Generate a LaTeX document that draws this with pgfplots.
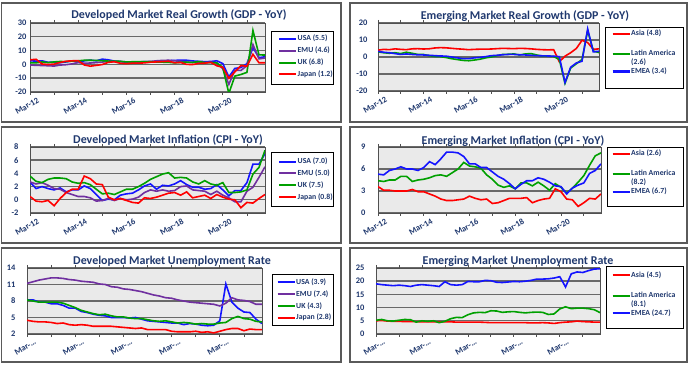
\documentclass[border=0pt]{standalone}
\usepackage{fontspec}
\setmainfont{Carlito}
\usepackage{pgfplots}
\pgfplotsset{compat=1.18}
\usepackage{pgfplotstable}

\definecolor{navy}{RGB}{31,56,110}
\definecolor{bggray}{RGB}{234,234,234}
\definecolor{gridgray}{RGB}{105,105,105}
\definecolor{axisgray}{RGB}{80,80,80}
\definecolor{panelgray}{RGB}{90,90,90}
\definecolor{cblue}{RGB}{20,20,255}
\definecolor{cpurple}{RGB}{112,48,160}
\definecolor{cgreen}{RGB}{0,160,0}
\definecolor{cred}{RGB}{255,0,0}

\pgfplotstableread{
i USA EMU UK JPN
0 2.6 -0.4 1.2 3.3
1 2.4 -0.7 1.1 3.7
2 2.6 -0.8 1.8 0.3
3 1.5 -1.0 1.3 -0.1
4 1.6 -1.2 1.8 0.2
5 1.2 -0.5 2.1 1.4
6 1.8 -0.2 2.0 2.3
7 2.6 0.4 2.4 2.6
8 1.5 1.3 2.6 2.7
9 2.6 0.9 3.0 -0.4
10 3.1 1.0 3.0 -1.3
11 2.6 1.3 2.9 -0.7
12 3.8 1.7 2.7 -0.1
13 3.3 2.1 2.4 1.5
14 2.4 2.0 2.4 1.9
15 2.1 2.1 2.2 0.8
16 1.5 1.8 1.8 0.5
17 1.3 1.7 1.9 0.9
18 1.6 1.8 2.0 0.9
19 2.0 2.0 2.0 1.1
20 2.0 2.1 2.0 1.6
21 2.1 2.6 1.6 1.8
22 2.3 2.9 1.6 2.0
23 2.7 3.0 1.5 2.3
24 2.9 2.6 1.1 1.2
25 3.1 2.2 1.5 1.4
26 3.0 1.7 1.6 0.0
27 2.5 1.4 1.4 -0.1
28 2.2 1.6 2.1 0.7
29 2.0 1.3 1.3 0.9
30 2.1 1.5 1.3 1.5
31 2.6 1.0 1.1 -1.0
32 0.6 -3.2 -2.2 -2.1
33 -9.1 -14.5 -21.0 -10.1
34 -2.9 -4.1 -8.5 -5.4
35 -2.3 -4.4 -7.3 -0.9
36 0.5 -1.0 -5.8 -1.3
37 12.2 14.4 24.6 7.3
38 4.9 4.0 6.9 1.2
39 5.5 4.6 6.8 1.2
}\tgdpdev

\pgfplotstableread{
i Asia LatAm EMEA
0 4.0 3.0 3.3
1 4.5 2.5 2.8
2 4.3 2.2 2.5
3 4.8 2.5 2.0
4 4.5 2.0 1.5
5 4.3 2.8 1.8
6 4.8 2.2 1.5
7 4.9 1.5 1.3
8 4.7 1.5 1.2
9 4.8 0.8 1.0
10 5.3 0.3 0.8
11 5.5 0.2 0.6
12 5.4 -0.3 0.5
13 5.1 -1.0 0.0
14 4.8 -1.5 -0.5
15 4.6 -2.0 -1.0
16 4.3 -2.2 -1.0
17 4.5 -1.8 -0.5
18 4.6 -1.3 -0.2
19 4.6 -0.5 0.2
20 4.7 0.0 0.8
21 4.9 0.8 1.0
22 5.1 1.5 1.3
23 5.0 1.6 1.5
24 4.9 1.8 1.5
25 5.1 1.2 1.3
26 5.0 1.8 1.2
27 4.8 2.0 1.0
28 4.5 1.2 0.8
29 4.3 0.5 0.7
30 4.2 0.5 0.6
31 4.3 0.3 0.5
32 -2.8 -1.5 0.2
33 0.5 -15.5 -15.0
34 2.5 -6.5 -6.0
35 5.0 -4.0 -3.5
36 9.8 -1.5 -2.5
37 8.5 15.5 16.5
38 4.5 3.5 3.0
39 4.8 2.6 3.4
}\tgdpem

\pgfplotstableread{
i USA EMU UK JPN
0 2.7 2.7 3.6 0.5
1 1.7 2.4 2.8 -0.2
2 2.0 2.6 2.6 -0.3
3 1.7 2.2 3.1 -0.1
4 1.5 1.7 3.3 -0.9
5 1.8 1.6 3.3 0.2
6 1.2 1.1 3.2 1.1
7 1.5 0.8 2.7 1.6
8 1.5 0.5 2.5 1.6
9 2.1 0.5 2.6 3.6
10 1.7 0.3 2.3 3.2
11 0.8 -0.2 1.6 2.4
12 -0.1 -0.1 0.9 2.3
13 0.1 0.2 1.0 0.4
14 0.0 -0.1 0.8 0.0
15 0.7 0.2 1.2 0.2
16 0.9 0.0 1.6 -0.1
17 1.0 0.1 1.6 -0.4
18 1.5 0.4 2.0 -0.5
19 2.1 1.1 2.5 0.3
20 2.4 1.5 3.1 0.2
21 1.6 1.3 3.5 0.4
22 2.2 1.5 3.9 0.7
23 2.1 1.3 4.1 1.0
24 2.4 1.4 3.3 1.1
25 2.9 2.0 3.4 0.7
26 2.3 2.1 3.3 1.2
27 1.9 1.5 2.7 0.3
28 1.9 1.4 2.4 0.5
29 1.6 1.3 2.9 0.7
30 1.7 0.8 2.4 0.2
31 2.3 1.3 2.2 0.8
32 1.5 0.7 2.6 0.4
33 0.6 0.3 1.1 0.1
34 1.4 -0.3 1.1 0.0
35 1.4 -0.3 1.2 -1.2
36 2.6 1.3 1.5 -0.4
37 5.4 1.9 3.9 -0.5
38 5.4 3.4 4.9 0.2
39 7.0 5.0 7.5 0.8
}\tcpidev

\pgfplotstableread{
i Asia LatAm EMEA
0 3.6 4.4 5.3
1 3.1 4.3 5.2
2 3.1 4.5 5.8
3 3.0 4.5 6.0
4 3.0 5.0 6.3
5 3.0 5.0 6.0
6 3.2 4.3 6.0
7 2.9 4.5 5.8
8 2.9 4.6 6.2
9 2.6 4.8 7.0
10 2.3 5.1 6.6
11 1.9 5.2 7.4
12 1.7 5.0 8.3
13 1.7 5.5 8.3
14 1.8 6.0 8.2
15 1.9 6.9 7.7
16 2.3 6.4 6.7
17 2.0 6.3 6.7
18 1.8 6.1 6.2
19 1.9 5.2 6.2
20 1.3 4.6 5.6
21 1.4 3.8 5.0
22 1.7 3.5 4.6
23 2.0 3.7 4.0
24 2.0 3.3 3.3
25 2.0 4.1 3.9
26 2.1 4.1 4.4
27 1.4 3.7 4.4
28 1.7 4.2 4.8
29 1.9 3.7 4.6
30 2.0 3.1 4.2
31 3.3 4.0 3.7
32 2.9 3.5 3.6
33 1.9 2.7 2.6
34 1.8 3.4 3.4
35 0.9 4.2 3.8
36 1.4 5.1 4.1
37 2.0 6.5 5.4
38 1.9 7.8 5.8
39 2.6 8.2 6.7
}\tcpiem

\pgfplotstableread{
i USA EMU UK JPN
0 8.2 11.2 8.2 4.5
1 8.2 11.5 8.0 4.3
2 7.8 11.8 7.8 4.2
3 7.8 12.0 7.8 4.2
4 7.5 12.2 7.8 4.1
5 7.5 12.2 7.8 3.9
6 7.2 12.1 7.6 4.0
7 6.7 11.9 7.2 3.7
8 6.7 11.8 6.8 3.6
9 6.1 11.6 6.3 3.7
10 5.9 11.5 6.0 3.6
11 5.6 11.4 5.7 3.4
12 5.4 11.1 5.5 3.4
13 5.3 11.0 5.6 3.4
14 5.0 10.6 5.3 3.4
15 5.0 10.5 5.1 3.3
16 5.0 10.2 5.1 3.2
17 4.9 10.1 4.9 3.1
18 5.0 9.9 4.8 3.0
19 4.7 9.7 4.8 3.1
20 4.4 9.4 4.6 2.8
21 4.3 9.1 4.4 2.8
22 4.2 8.9 4.3 2.8
23 4.1 8.6 4.4 2.8
24 4.0 8.5 4.2 2.5
25 4.0 8.2 4.0 2.4
26 3.7 8.0 4.1 2.4
27 3.9 7.8 4.0 2.4
28 3.8 7.7 3.8 2.5
29 3.6 7.6 3.9 2.3
30 3.5 7.5 3.8 2.4
31 3.6 7.4 3.8 2.2
32 4.4 7.1 4.0 2.5
33 11.1 7.6 4.1 2.8
34 7.8 8.6 4.8 3.0
35 6.7 8.2 5.2 3.0
36 6.0 8.1 4.8 2.6
37 5.9 7.9 4.7 2.9
38 4.7 7.4 4.3 2.8
39 3.9 7.4 4.2 2.8
}\tundev

\pgfplotstableread{
i Asia LatAm EMEA
0 5.0 5.2 19.0
1 5.1 5.5 18.7
2 4.9 5.0 18.5
3 4.8 4.9 18.3
4 4.8 5.2 18.5
5 4.7 5.5 18.3
6 4.7 5.4 18.0
7 4.7 4.5 18.5
8 4.6 5.0 18.7
9 4.6 4.8 18.5
10 4.6 5.0 18.3
11 4.6 4.3 18.0
12 4.6 4.8 19.8
13 4.6 5.8 18.7
14 4.5 6.3 18.5
15 4.5 6.2 18.7
16 4.5 7.3 19.9
17 4.5 8.0 19.8
18 4.5 8.2 19.8
19 4.4 8.1 20.3
20 4.3 8.8 20.2
21 4.3 8.7 19.6
22 4.3 8.2 19.5
23 4.3 8.4 19.7
24 4.3 8.5 19.9
25 4.3 8.2 19.8
26 4.3 8.0 20.0
27 4.2 8.2 20.3
28 4.2 8.3 20.8
29 4.3 8.2 20.8
30 4.2 7.4 20.9
31 4.0 7.6 21.2
32 4.3 9.5 21.7
33 4.5 10.3 17.8
34 4.6 9.6 22.8
35 4.9 9.8 23.5
36 4.7 9.8 23.3
37 4.6 9.6 24.0
38 4.5 9.2 24.6
39 4.5 8.1 24.7
}\tunem

\pgfplotsset{
  panel/.style={
    scale only axis, anchor=north west,
    xmin=0, xmax=39,
    xtick={0,8,16,24,32},
    minor xtick={4,12,20,28,36},
    axis background/.style={fill=bggray},
    axis line style={draw=axisgray, line width=0.8bp},
    ymajorgrids, major grid style={draw=gridgray, line width=1.4bp},
    tick align=outside, major tick length=3bp, minor tick length=3bp,
    xtick style={draw=axisgray, line width=0.8bp},
    minor x tick style={draw=axisgray, line width=0.8bp},
    ytick style={draw=none},
    tick label style={font=\fontsize{8.5}{10}\selectfont\bfseries, text=navy},
    xticklabel style={rotate=30, anchor=north east, inner sep=1pt, xshift=6bp, yshift=-4bp},
    legend cell align=left,
    every axis plot/.append style={line width=1.6bp, mark=none},
    legend image code/.code={\draw[#1, line width=2bp] (0bp,0bp) -- (17bp,0bp);},
  },
  devleg/.style={legend style={draw=none, fill=none, anchor=north west, inner sep=0pt,
    row sep=0.6bp, column sep=0pt, font=\fontsize{7.8}{9}\selectfont\bfseries,
    nodes={inner ysep=2bp, inner xsep=0.5bp, text depth=0.15em, text=navy}}},
  emleg/.style={legend style={draw=none, fill=none, anchor=north west, inner sep=0pt,
    row sep=0bp, column sep=0pt, font=\fontsize{7.8}{9}\selectfont\bfseries,
    nodes={inner ysep=0.8bp, inner xsep=0.5bp, text depth=0.15em, text=navy}}},
  datelabels/.style={xticklabels={Mar-12,Mar-14,Mar-16,Mar-18,Mar-20}},
  shortlabels/.style={xticklabels={{Mar-\ldots},{Mar-\ldots},{Mar-\ldots},{Mar-\ldots},{Mar-\ldots}}},
}

\begin{document}
\begin{tikzpicture}
\useasboundingbox (0,0) rectangle (689bp,365bp);
\fill[white] (0,0) rectangle (689bp,365bp);

% panel frames
\begin{scope}[draw=panelgray, line width=1.3bp]
\draw (1.5bp,243bp) rectangle (341bp,362bp);
\draw (350bp,243bp) rectangle (687bp,362bp);
\draw (1.5bp,122bp) rectangle (341bp,238bp);
\draw (350bp,122bp) rectangle (687bp,238bp);
\draw (1.5bp,3bp) rectangle (341bp,117bp);
\draw (350bp,3bp) rectangle (687bp,117bp);
\end{scope}

% titles
\begin{scope}[every node/.style={font=\fontsize{12}{14}\selectfont\bfseries, text=navy, inner sep=0pt}]
\node at (179bp,349.5bp) {Developed Market Real Growth (GDP - YoY)};
\node at (525bp,348.5bp) {Emerging Market Real Growth (GDP - YoY)};
\node at (168bp,224.5bp) {Developed Market Inflation (CPI - YoY)};
\node at (513bp,224bp) {Emerging Market Inflation (CPI - YoY)};
\node at (172bp,103.5bp) {Developed Market Unemployment Rate};
\node at (518bp,103.5bp) {Emerging Market Unemployment Rate};
\end{scope}

% ---------- Developed GDP
\begin{axis}[panel, datelabels, devleg, at={(30bp,342bp)}, width=235bp, height=69bp,
  ymin=-20, ymax=30, ytick={-20,-10,0,10,20,30}, yticklabels={-20,-10,0,10,20,30},
  yticklabel style={xshift=3bp},
  legend style={at={(1.0553,0.8551)}}]
\addplot[cblue] table[x expr=\coordindex, y=USA]{\tgdpdev};
\addlegendentry{USA (5.5)}
\addplot[cpurple] table[x expr=\coordindex, y=EMU]{\tgdpdev};
\addlegendentry{EMU (4.6)}
\addplot[cgreen] table[x expr=\coordindex, y=UK]{\tgdpdev};
\addlegendentry{UK (6.8)}
\addplot[cred] table[x expr=\coordindex, y=JPN]{\tgdpdev};
\addlegendentry{Japan (1.2)}
\end{axis}

% ---------- Emerging GDP
\begin{axis}[panel, datelabels, emleg, at={(378bp,342bp)}, width=221bp, height=68bp,
  ymin=-20, ymax=20, ytick={-20,-10,0,10,20}, yticklabels={-20,-10,0,10,20},
  yticklabel style={xshift=-4bp},
  legend style={at={(1.0566,0.9118)}}]
\addplot[cred] table[x expr=\coordindex, y=Asia]{\tgdpem};
\addlegendentry{Asia (4.8)}
\addlegendimage{empty legend}
\addlegendentry{\rule{0pt}{8.5bp}}
\addplot[cgreen] table[x expr=\coordindex, y=LatAm]{\tgdpem};
\addlegendentry{Latin America}
\addlegendimage{empty legend}
\addlegendentry{(2.6)}
\addplot[cblue] table[x expr=\coordindex, y=EMEA]{\tgdpem};
\addlegendentry{EMEA (3.4)}
\end{axis}

% ---------- Developed CPI
\begin{axis}[panel, datelabels, devleg, at={(30bp,218bp)}, width=235bp, height=66bp,
  ymin=-2, ymax=8, ytick={-2,0,2,4,6,8}, yticklabels={-2,0,2,4,6,8},
  yticklabel style={xshift=-5bp},
  legend style={at={(1.0553,0.868)}}]
\addplot[cblue] table[x expr=\coordindex, y=USA]{\tcpidev};
\addlegendentry{USA (7.0)}
\addplot[cpurple] table[x expr=\coordindex, y=EMU]{\tcpidev};
\addlegendentry{EMU (5.0)}
\addplot[cgreen] table[x expr=\coordindex, y=UK]{\tcpidev};
\addlegendentry{UK (7.5)}
\addplot[cred] table[x expr=\coordindex, y=JPN]{\tcpidev};
\addlegendentry{Japan (0.8)}
\end{axis}

% ---------- Emerging CPI
\begin{axis}[panel, datelabels, emleg, at={(378bp,218bp)}, width=223bp, height=66bp,
  ymin=0, ymax=9, ytick={0,3,6,9}, yticklabels={0,3,6,9},
  yticklabel style={xshift=-6bp},
  legend style={at={(1.0471,0.9697)}}]
\addplot[cred] table[x expr=\coordindex, y=Asia]{\tcpiem};
\addlegendentry{Asia (2.6)}
\addlegendimage{empty legend}
\addlegendentry{\rule{0pt}{8.5bp}}
\addplot[cgreen] table[x expr=\coordindex, y=LatAm]{\tcpiem};
\addlegendentry{Latin America}
\addlegendimage{empty legend}
\addlegendentry{(8.2)}
\addplot[cblue] table[x expr=\coordindex, y=EMEA]{\tcpiem};
\addlegendentry{EMEA (6.7)}
\end{axis}

% ---------- Developed unemployment
\begin{axis}[panel, shortlabels, devleg, at={(27bp,97bp)}, width=235bp, height=66bp,
  ymin=2, ymax=14, ytick={2,5,8,11,14}, yticklabels={2,5,8,11,14},
  yticklabel style={xshift=-5bp},
  legend style={at={(1.0617,0.874)}}]
\addplot[cblue] table[x expr=\coordindex, y=USA]{\tundev};
\addlegendentry{USA (3.9)}
\addplot[cpurple] table[x expr=\coordindex, y=EMU]{\tundev};
\addlegendentry{EMU (7.4)}
\addplot[cgreen] table[x expr=\coordindex, y=UK]{\tundev};
\addlegendentry{UK (4.3)}
\addplot[cred] table[x expr=\coordindex, y=JPN]{\tundev};
\addlegendentry{Japan (2.8)}
\end{axis}

% ---------- Emerging unemployment
\begin{axis}[panel, shortlabels, emleg, at={(376bp,97bp)}, width=224bp, height=66bp,
  ymin=0, ymax=25, ytick={0,5,10,15,20,25}, yticklabels={0,5,10,15,20,25},
  yticklabel style={xshift=-5bp},
  legend style={at={(1.0513,0.9606)}}]
\addplot[cred] table[x expr=\coordindex, y=Asia]{\tunem};
\addlegendentry{Asia (4.5)}
\addlegendimage{empty legend}
\addlegendentry{\rule{0pt}{8.5bp}}
\addplot[cgreen] table[x expr=\coordindex, y=LatAm]{\tunem};
\addlegendentry{Latin America}
\addlegendimage{empty legend}
\addlegendentry{(8.1)}
\addplot[cblue] table[x expr=\coordindex, y=EMEA]{\tunem};
\addlegendentry{EMEA (24.7)}
\end{axis}

% legend frames
\begin{scope}[draw=black, line width=1bp]
\draw (271bp,333bp) rectangle (333bp,280bp);
\draw (605bp,337bp) rectangle (683bp,276bp);
\draw (271bp,212bp) rectangle (333bp,158bp);
\draw (607bp,217bp) rectangle (683bp,158bp);
\draw (272bp,90bp) rectangle (333bp,39bp);
\draw (606bp,98bp) rectangle (683bp,36bp);
\end{scope}
\end{tikzpicture}
\end{document}
